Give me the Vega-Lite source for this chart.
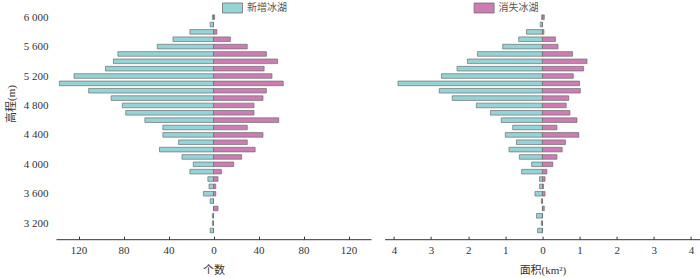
{
  "$schema": "https://vega.github.io/schema/vega-lite/v6.json",
  "padding": {"left": 5, "top": -2.5, "right": 0, "bottom": 0},
  "data": {"values": [
    {"elev": 6000, "type": "新增冰湖", "count": 1, "area": 0.02},
    {"elev": 6000, "type": "消失冰湖", "count": 1, "area": 0.05},
    {"elev": 5900, "type": "新增冰湖", "count": 3, "area": 0.06},
    {"elev": 5900, "type": "消失冰湖", "count": 0, "area": 0},
    {"elev": 5800, "type": "新增冰湖", "count": 21, "area": 0.43},
    {"elev": 5800, "type": "消失冰湖", "count": 3, "area": 0.04},
    {"elev": 5700, "type": "新增冰湖", "count": 36, "area": 0.64},
    {"elev": 5700, "type": "消失冰湖", "count": 15, "area": 0.35},
    {"elev": 5600, "type": "新增冰湖", "count": 50, "area": 1.07},
    {"elev": 5600, "type": "消失冰湖", "count": 30, "area": 0.42},
    {"elev": 5500, "type": "新增冰湖", "count": 85, "area": 1.75},
    {"elev": 5500, "type": "消失冰湖", "count": 47, "area": 0.81},
    {"elev": 5400, "type": "新增冰湖", "count": 89, "area": 2.02},
    {"elev": 5400, "type": "消失冰湖", "count": 57, "area": 1.2},
    {"elev": 5300, "type": "新增冰湖", "count": 96, "area": 2.3},
    {"elev": 5300, "type": "消失冰湖", "count": 45, "area": 1.11},
    {"elev": 5200, "type": "新增冰湖", "count": 124, "area": 2.72},
    {"elev": 5200, "type": "消失冰湖", "count": 52, "area": 0.83},
    {"elev": 5100, "type": "新增冰湖", "count": 137, "area": 3.89},
    {"elev": 5100, "type": "消失冰湖", "count": 62, "area": 1.0},
    {"elev": 5000, "type": "新增冰湖", "count": 111, "area": 2.78},
    {"elev": 5000, "type": "消失冰湖", "count": 47, "area": 1.02},
    {"elev": 4900, "type": "新增冰湖", "count": 91, "area": 2.43},
    {"elev": 4900, "type": "消失冰湖", "count": 44, "area": 0.71},
    {"elev": 4800, "type": "新增冰湖", "count": 81, "area": 1.78},
    {"elev": 4800, "type": "消失冰湖", "count": 36, "area": 0.64},
    {"elev": 4700, "type": "新增冰湖", "count": 78, "area": 1.4},
    {"elev": 4700, "type": "消失冰湖", "count": 36, "area": 0.74},
    {"elev": 4600, "type": "新增冰湖", "count": 61, "area": 1.11},
    {"elev": 4600, "type": "消失冰湖", "count": 58, "area": 0.93},
    {"elev": 4500, "type": "新增冰湖", "count": 45, "area": 0.8},
    {"elev": 4500, "type": "消失冰湖", "count": 30, "area": 0.39},
    {"elev": 4400, "type": "新增冰湖", "count": 45, "area": 1.0},
    {"elev": 4400, "type": "消失冰湖", "count": 44, "area": 0.98},
    {"elev": 4300, "type": "新增冰湖", "count": 31, "area": 0.7},
    {"elev": 4300, "type": "消失冰湖", "count": 30, "area": 0.62},
    {"elev": 4200, "type": "新增冰湖", "count": 48, "area": 0.9},
    {"elev": 4200, "type": "消失冰湖", "count": 37, "area": 0.53},
    {"elev": 4100, "type": "新增冰湖", "count": 28, "area": 0.62},
    {"elev": 4100, "type": "消失冰湖", "count": 25, "area": 0.39},
    {"elev": 4000, "type": "新增冰湖", "count": 18, "area": 0.29},
    {"elev": 4000, "type": "消失冰湖", "count": 18, "area": 0.28},
    {"elev": 3900, "type": "新增冰湖", "count": 21, "area": 0.56},
    {"elev": 3900, "type": "消失冰湖", "count": 7, "area": 0.12},
    {"elev": 3800, "type": "新增冰湖", "count": 5, "area": 0.08},
    {"elev": 3800, "type": "消失冰湖", "count": 4, "area": 0.07},
    {"elev": 3700, "type": "新增冰湖", "count": 4, "area": 0.08},
    {"elev": 3700, "type": "消失冰湖", "count": 2, "area": 0.03},
    {"elev": 3600, "type": "新增冰湖", "count": 9, "area": 0.2},
    {"elev": 3600, "type": "消失冰湖", "count": 2, "area": 0.07},
    {"elev": 3500, "type": "新增冰湖", "count": 3, "area": 0.03},
    {"elev": 3500, "type": "消失冰湖", "count": 0, "area": 0},
    {"elev": 3400, "type": "新增冰湖", "count": 0, "area": 0},
    {"elev": 3400, "type": "消失冰湖", "count": 4, "area": 0.05},
    {"elev": 3300, "type": "新增冰湖", "count": 1, "area": 0.16},
    {"elev": 3300, "type": "消失冰湖", "count": 0, "area": 0},
    {"elev": 3200, "type": "新增冰湖", "count": 1, "area": 0.03},
    {"elev": 3200, "type": "消失冰湖", "count": 0, "area": 0},
    {"elev": 3100, "type": "新增冰湖", "count": 3, "area": 0.13},
    {"elev": 3100, "type": "消失冰湖", "count": 0, "area": 0}
  ]},
  "transform": [
    {"calculate": "datum.type === '新增冰湖' ? -datum.count : datum.count", "as": "c"},
    {"calculate": "datum.type === '新增冰湖' ? -datum.area : datum.area", "as": "a"}
  ],
  "spacing": 13.6,
  "resolve": {"legend": {"color": "independent"}, "scale": {"x": "independent"}},
  "hconcat": [
    {
      "width": 315,
      "height": 230.7,
      "mark": {"type": "bar", "orient": "horizontal", "height": 4.6, "stroke": "#6e6e6e", "strokeWidth": 0.7},
      "encoding": {
        "y": {"field": "elev", "type": "quantitative",
          "scale": {"domain": [3050, 6050], "nice": false, "zero": false},
          "axis": {"values": [3200, 3600, 4000, 4400, 4800, 5200, 5600, 6000],
            "labelExpr": "replace(format(datum.value, ','), ',', ' ')",
            "title": "高程(m)", "ticks": false, "domain": false, "labelPadding": 8, "titleY": 95, "titlePadding": 7}},
        "x": {"field": "c", "type": "quantitative", "stack": null,
          "scale": {"domain": [-140, 140], "nice": false},
          "axis": {"values": [-120, -80, -40, 0, 40, 80, 120], "labelExpr": "abs(datum.value)",
            "title": "个数", "tickSize": -3, "labelPadding": 8.5, "titlePadding": 9}},
        "color": {"field": "type", "type": "nominal",
          "scale": {"domain": ["新增冰湖", "消失冰湖"], "range": ["#94d4d6", "#cc7db4"]},
          "legend": {"values": ["新增冰湖"], "orient": "none", "legendX": 166, "legendY": -11, "title": null,
            "symbolType": "M-1,-0.5H1V0.5H-1Z", "symbolSize": 400, "symbolStrokeColor": "#6e6e6e", "symbolStrokeWidth": 0.8, "symbolOpacity": 1,
            "labelFont": "Noto Sans CJK SC", "labelFontSize": 10, "labelColor": "#555", "labelOffset": 4}}
      }
    },
    {
      "width": 315.7,
      "height": 230.7,
      "mark": {"type": "bar", "orient": "horizontal", "height": 4.6, "stroke": "#6e6e6e", "strokeWidth": 0.7},
      "encoding": {
        "y": {"field": "elev", "type": "quantitative",
          "scale": {"domain": [3050, 6050], "nice": false, "zero": false}, "axis": null},
        "x": {"field": "a", "type": "quantitative", "stack": null,
          "scale": {"domain": [-4.25, 4.25], "nice": false},
          "axis": {"values": [-4, -3, -2, -1, 0, 1, 2, 3, 4], "labelExpr": "abs(datum.value)",
            "title": "面积(km²)", "tickSize": -3, "labelPadding": 8.5, "titlePadding": 9}},
        "color": {"field": "type", "type": "nominal",
          "scale": {"domain": ["新增冰湖", "消失冰湖"], "range": ["#94d4d6", "#cc7db4"]},
          "legend": {"values": ["消失冰湖"], "orient": "none", "legendX": 89, "legendY": -11, "title": null,
            "symbolType": "M-1,-0.5H1V0.5H-1Z", "symbolSize": 400, "symbolStrokeColor": "#6e6e6e", "symbolStrokeWidth": 0.8, "symbolOpacity": 1,
            "labelFont": "Noto Sans CJK SC", "labelFontSize": 10, "labelColor": "#555", "labelOffset": 4}}
      }
    }
  ],
  "config": {
    "view": {"stroke": null},
    "axis": {"grid": false, "domainColor": "#333", "tickColor": "#333", "domainWidth": 1, "tickWidth": 1,
      "labelFont": "Liberation Serif, Noto Sans CJK SC", "titleFont": "Liberation Serif, Noto Sans CJK SC",
      "labelFontSize": 11, "titleFontSize": 11, "titleFontWeight": "normal", "labelColor": "#333", "titleColor": "#333"}
  }
}
